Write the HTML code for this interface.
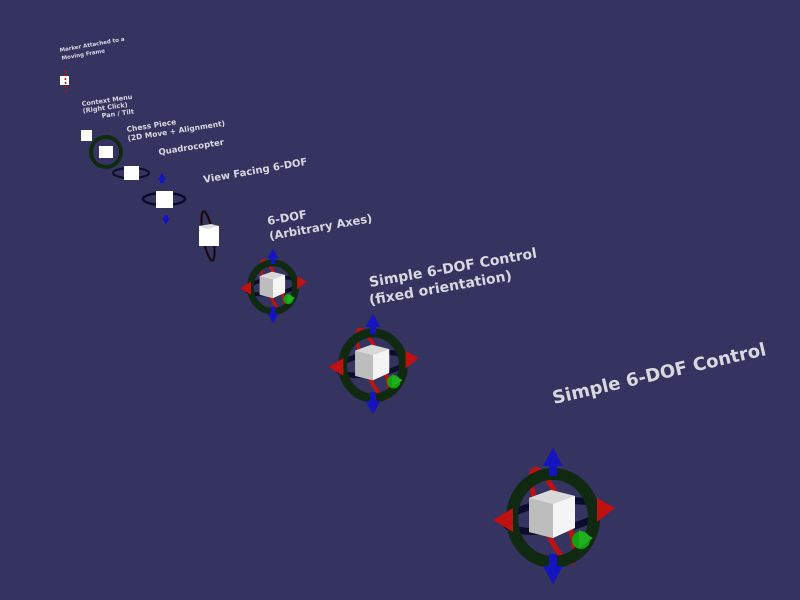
<!DOCTYPE html>
<html><head><meta charset="utf-8"><style>
html,body{margin:0;padding:0;background:#35335f;}
svg{display:block}
text{font-family:"DejaVu Sans","Liberation Sans",sans-serif;font-weight:bold;fill:#d8d8e0}
</style></head><body>
<svg width="800" height="600" viewBox="0 0 800 600" xmlns="http://www.w3.org/2000/svg">
<rect width="800" height="600" fill="#35335f"/>
<defs>
<g id="ctl">
  <ellipse cx="0" cy="0" rx="48" ry="14" fill="none" stroke="#0b0b2c" stroke-width="7" transform="rotate(-8)"/>
  <ellipse cx="0" cy="0" rx="12" ry="50" fill="none" stroke="#c01010" stroke-width="5" transform="rotate(-22)"/>
  <ellipse cx="0" cy="2" rx="41" ry="44" fill="none" stroke="#0f2a10" stroke-width="12"/>
  <polygon points="-24,-18 -2,-26 22,-20 22,12 0,22 -24,16" fill="#f4f4f4"/>
  <polygon points="-24,-18 -2,-26 22,-20 0,-12" fill="#d8d8d8"/>
  <polygon points="-24,-18 0,-12 0,22 -24,16" fill="#bdbdbd"/>
  <polygon points="0,-68 -10,-50 10,-50" fill="#1515c0"/>
  <rect x="-4" y="-52" width="8" height="12" fill="#1515c0"/>
  <polygon points="0,68 -10,50 10,50" fill="#1515c0"/>
  <rect x="-4" y="38" width="8" height="14" fill="#1515c0"/>
  <polygon points="-60,4 -40,-8 -40,16" fill="#c01010"/>
  <polygon points="62,-8 44,-18 44,6" fill="#c01010"/>
  <circle cx="28" cy="24" r="9" fill="#10a010"/>
  <polygon points="40,22 26,14 26,32" fill="#20b020"/>
</g>
</defs>

<rect x="60" y="76" width="9" height="9" fill="#fff"/>
<line x1="65" y1="70" x2="66" y2="92" stroke="#c01010" stroke-width="1.5" stroke-dasharray="2,2"/>
<rect x="81" y="130" width="11" height="11" fill="#fff"/>
<ellipse cx="106" cy="152" rx="15" ry="15" fill="none" stroke="#0f2a10" stroke-width="4"/>
<rect x="99" y="146" width="14" height="12" fill="#fff"/>
<ellipse cx="131" cy="173" rx="18" ry="5" fill="none" stroke="#0b0b2c" stroke-width="2"/>
<rect x="124" y="166" width="15" height="14" fill="#fff"/>
<ellipse cx="164" cy="199" rx="21" ry="6" fill="none" stroke="#0b0b2c" stroke-width="2.5"/>
<rect x="156" y="191" width="17" height="17" fill="#fff"/>
<polygon points="162,173 158,180 166,180" fill="#1515c0"/><rect x="160" y="179" width="4" height="4" fill="#1515c0"/>
<polygon points="166,225 162,218 170,218" fill="#1515c0"/><rect x="164" y="215" width="4" height="4" fill="#1515c0"/>
<ellipse cx="208" cy="236" rx="5" ry="25" fill="none" stroke="#1a0808" stroke-width="2" transform="rotate(-10 208 236)"/>
<rect x="199" y="226" width="20" height="20" fill="#fff"/>
<polygon points="199,226 211,224 219,226 207,229" fill="#ddd"/>

<use href="#ctl" transform="translate(273,286) scale(0.55)"/>
<use href="#ctl" transform="translate(373,364) scale(0.74)"/>
<use href="#ctl" transform="translate(553,516)"/>

<text x="60" y="52" font-size="5.5" transform="rotate(-10 60 52)">Marker Attached to a</text>
<text x="62" y="60" font-size="5.5" transform="rotate(-10 62 60)">Moving Frame</text>
<text x="82" y="106" font-size="6.5" transform="rotate(-8 82 106)">Context Menu</text>
<text x="83" y="113" font-size="6.5" transform="rotate(-8 83 113)">(Right Click)</text>
<text x="102" y="118" font-size="6.5" transform="rotate(-8 102 118)">Pan / Tilt</text>
<text x="127" y="132" font-size="7.5" transform="rotate(-9 127 132)">Chess Piece</text>
<text x="128" y="141" font-size="7.5" transform="rotate(-9 128 141)">(2D Move + Alignment)</text>
<text x="159" y="155" font-size="8.5" transform="rotate(-9 159 155)">Quadrocopter</text>
<text x="204" y="183" font-size="10" transform="rotate(-10 204 183)">View Facing 6-DOF</text>
<text x="268" y="225" font-size="11.5" transform="rotate(-10 268 225)">6-DOF</text>
<text x="270" y="240" font-size="11.5" transform="rotate(-10 270 240)">(Arbitrary Axes)</text>
<text x="370" y="287" font-size="14" transform="rotate(-10 370 287)">Simple 6-DOF Control</text>
<text x="370" y="305" font-size="14" transform="rotate(-10 370 305)">(fixed orientation)</text>
<text x="554" y="404" font-size="18" transform="rotate(-13 554 404)">Simple 6-DOF Control</text>
</svg>
</body></html>
